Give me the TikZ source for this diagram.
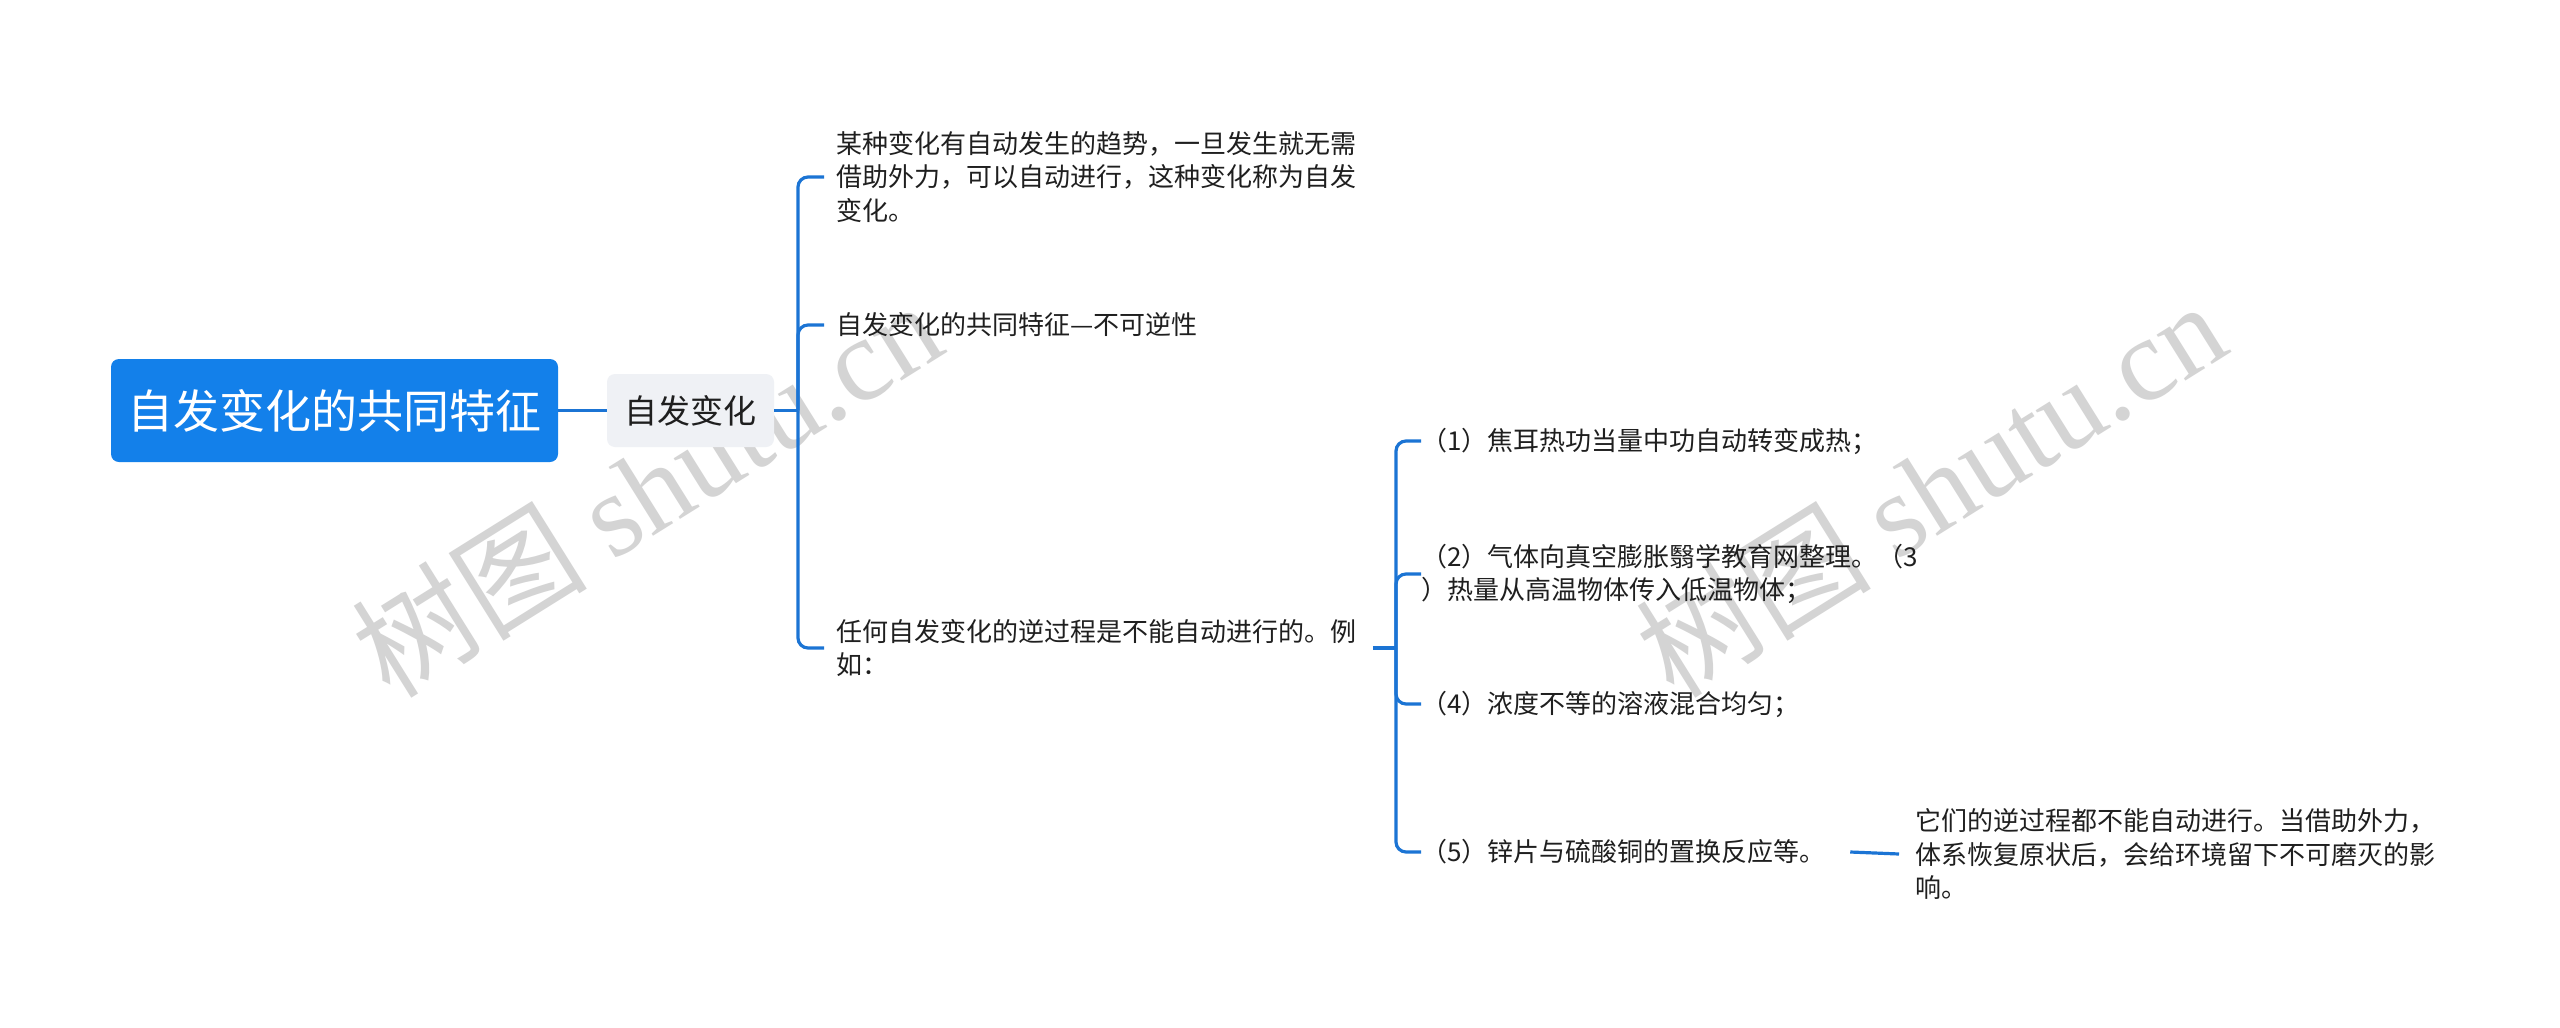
\documentclass[tikz,border=0pt]{standalone}
\usepackage{fontspec}
\setmainfont{Noto Sans CJK SC}
\newfontfamily\wmfont{Liberation Serif}
\definecolor{rootblue}{HTML}{1380EA}
\definecolor{linkblue}{HTML}{1B74D4}
\definecolor{subgray}{HTML}{EFF1F5}
\definecolor{txt}{HTML}{1F1F1F}
\definecolor{wm}{HTML}{D4D4D4}
\begin{document}
\begin{tikzpicture}[x=0.5pt,y=-0.5pt,
  conn/.style={draw=linkblue,line width=1.6pt,rounded corners=5pt},
  rootnode/.style={fill=rootblue,rounded corners=4pt,minimum width=223.5pt,minimum height=51.5pt,inner sep=0pt,text=white,font=\fontsize{23}{27}\selectfont},
  subnode/.style={fill=subgray,rounded corners=4pt,minimum width=83.5pt,minimum height=36.5pt,inner sep=0pt,text=txt,font=\fontsize{16.5}{20}\selectfont},
  leaf/.style={anchor=west,inner sep=0pt,align=left,text=txt,font=\fontsize{13}{16.75}\selectfont},
  watermark/.style={rotate=32,text=wm,inner sep=0pt,font=\fontsize{59}{59}\selectfont}
]
\useasboundingbox (0,0) rectangle (2560,1028);
\fill[white] (0,0) rectangle (2560,1028);

\node[watermark] (wm1) at (646,488) {树图 {\wmfont shutu.cn}};
\node[watermark] (wm2) at (1930,488) {树图 {\wmfont shutu.cn}};

\node[rootnode] (root) at (334.5,410.5) {自发变化的共同特征};
\node[subnode] (l1) at (690.5,410.5) {自发变化};
\node[leaf] (c1) at (836,177) {某种变化有自动发生的趋势，一旦发生就无需\\借助外力，可以自动进行，这种变化称为自发\\变化。};
\node[leaf] (c2) at (836,325) {自发变化的共同特征—不可逆性};
\node[leaf] (c3) at (836,648) {任何自发变化的逆过程是不能自动进行的。例\\如：};
\node[leaf] (g1) at (1421,441) {（1）焦耳热功当量中功自动转变成热；};
\node[leaf] (g2) at (1421,574) {（2）气体向真空膨胀翳学教育网整理。（3\\）热量从高温物体传入低温物体；};
\node[leaf] (g4) at (1421,704) {（4）浓度不等的溶液混合均匀；};
\node[leaf] (g5) at (1421,852) {（5）锌片与硫酸铜的置换反应等。};
\node[leaf] (lf) at (1915,854) {它们的逆过程都不能自动进行。当借助外力，\\体系恢复原状后，会给环境留下不可磨灭的影\\响。};

\coordinate (j1) at (798,410.5);
\coordinate (j2) at (1396,648);

\draw[conn] (root.east) -- (l1.west);
\draw[conn] (l1.east) -- (j1);
\draw[conn] (j1) |- ([xshift=-6pt]c1.west);
\draw[conn] (j1) |- ([xshift=-6pt]c2.west);
\draw[conn] (j1) |- ([xshift=-6pt]c3.west);
\draw[conn] ([xshift=8pt]c3.east) -- (j2);
\draw[conn] (j2) |- (g1.west);
\draw[conn] (j2) |- (g2.west);
\draw[conn] (j2) |- (g4.west);
\draw[conn] (j2) |- (g5.west);
\draw[conn] ([xshift=12pt]g5.east) -- ([xshift=-8pt]lf.west);
\end{tikzpicture}
\end{document}
